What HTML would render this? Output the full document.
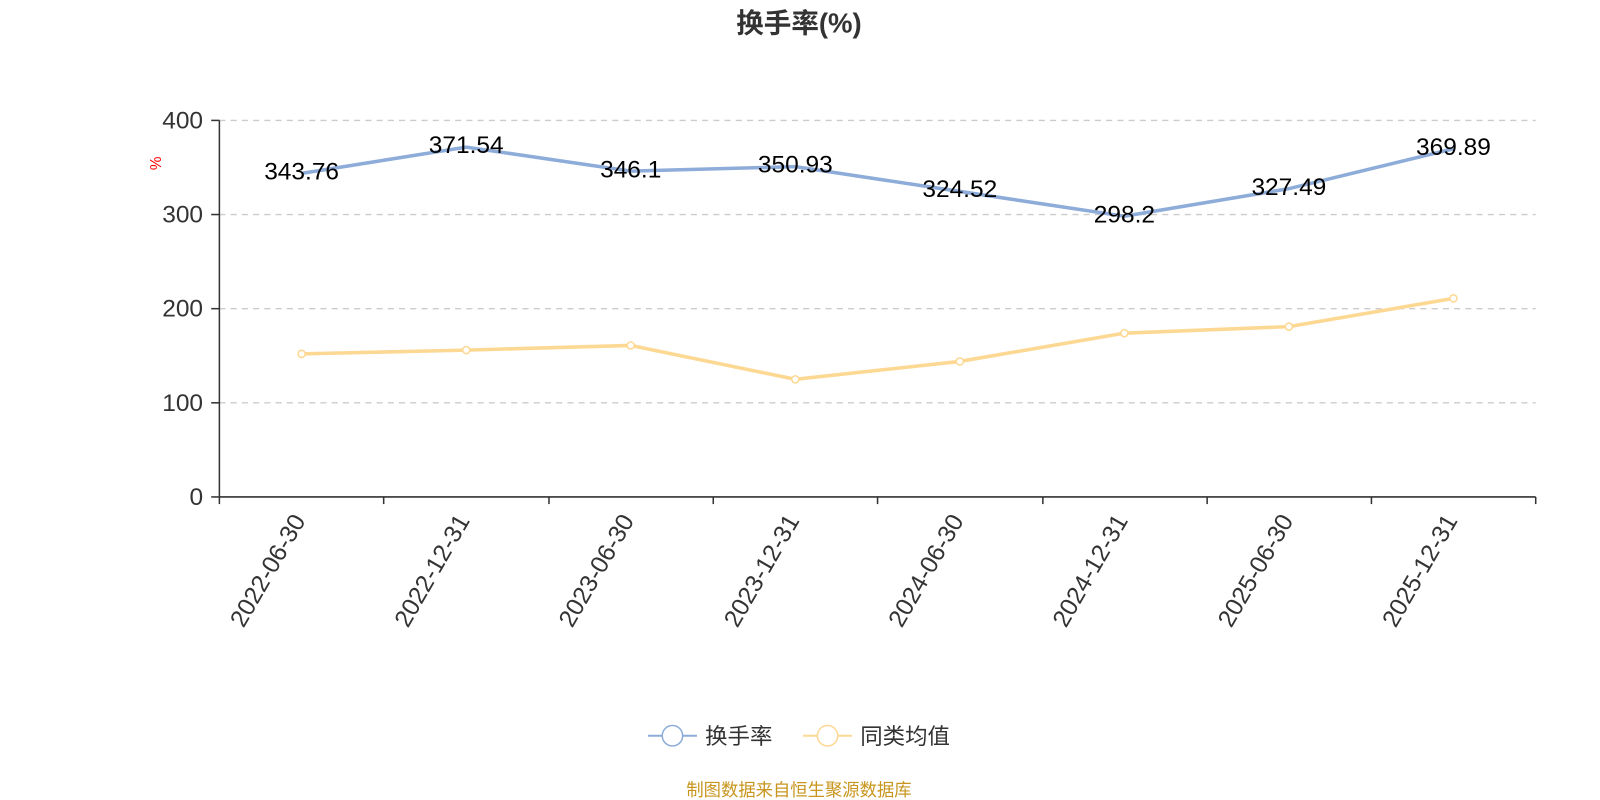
<!DOCTYPE html>
<html><head><meta charset="utf-8"><style>body{margin:0;background:#fff}svg{display:block}</style></head><body>
<svg width="1600" height="800" viewBox="0 0 1568 784" xmlns="http://www.w3.org/2000/svg" font-family="'Liberation Sans','Noto Sans CJK SC',sans-serif">
<text x="783" y="32" text-anchor="middle" font-size="27" font-weight="bold" fill="#333">换手率(%)</text>
<g stroke="#ccc" stroke-dasharray="6,5" stroke-width="1.3">
<line x1="215" x2="1505" y1="118" y2="118"/><line x1="215" x2="1505" y1="210.25" y2="210.25"/><line x1="215" x2="1505" y1="302.5" y2="302.5"/><line x1="215" x2="1505" y1="394.75" y2="394.75"/>
</g>
<g stroke="#333" stroke-width="1.5">
<line x1="215" x2="215" y1="118" y2="487"/><line x1="215" x2="1505" y1="487" y2="487"/>
<line x1="207" x2="215" y1="118" y2="118"/><line x1="207" x2="215" y1="210.25" y2="210.25"/><line x1="207" x2="215" y1="302.5" y2="302.5"/><line x1="207" x2="215" y1="394.75" y2="394.75"/><line x1="207" x2="215" y1="487" y2="487"/>
<line x1="215" x2="215" y1="487" y2="494"/><line x1="376" x2="376" y1="487" y2="494"/><line x1="538" x2="538" y1="487" y2="494"/><line x1="699" x2="699" y1="487" y2="494"/><line x1="860" x2="860" y1="487" y2="494"/><line x1="1022" x2="1022" y1="487" y2="494"/><line x1="1183" x2="1183" y1="487" y2="494"/><line x1="1344" x2="1344" y1="487" y2="494"/><line x1="1505" x2="1505" y1="487" y2="494"/>
</g>
<g font-size="24" fill="#333" text-anchor="end">
<text x="199" y="126">400</text><text x="199" y="218">300</text><text x="199" y="310">200</text><text x="199" y="403">100</text><text x="199" y="495">0</text>
</g>
<text x="158" y="160" font-size="15" fill="red" transform="rotate(-90 158 160)" text-anchor="middle">%</text>
<g font-size="24" fill="#333" text-anchor="end">
<text transform="translate(300,510) rotate(-60)">2022-06-30</text>
<text transform="translate(461,510) rotate(-60)">2022-12-31</text>
<text transform="translate(622,510) rotate(-60)">2023-06-30</text>
<text transform="translate(784,510) rotate(-60)">2023-12-31</text>
<text transform="translate(945,510) rotate(-60)">2024-06-30</text>
<text transform="translate(1106,510) rotate(-60)">2024-12-31</text>
<text transform="translate(1268,510) rotate(-60)">2025-06-30</text>
<text transform="translate(1429,510) rotate(-60)">2025-12-31</text>
</g>
<polyline fill="none" stroke="#8eacd9" stroke-width="3.5" points="295.6,169.9 456.9,144.2 618.1,167.7 779.4,163.3 940.6,187.6 1101.9,211.9 1263.1,184.9 1424.4,145.8"/>
<polyline fill="none" stroke="#fdd893" stroke-width="3.5" points="295.6,346.8 456.9,343.1 618.1,338.5 779.4,371.7 940.6,354.2 1101.9,326.5 1263.1,320.1 1424.4,292.4"/>
<g fill="#fff" stroke="#fdd893" stroke-width="1.5">
<circle cx="295.6" cy="346.8" r="3.5"/><circle cx="456.9" cy="343.1" r="3.5"/><circle cx="618.1" cy="338.5" r="3.5"/><circle cx="779.4" cy="371.7" r="3.5"/><circle cx="940.6" cy="354.2" r="3.5"/><circle cx="1101.9" cy="326.5" r="3.5"/><circle cx="1263.1" cy="320.1" r="3.5"/><circle cx="1424.4" cy="292.4" r="3.5"/>
</g>
<g font-size="24" fill="#000" text-anchor="middle">
<text x="295.6" y="176">343.76</text><text x="456.9" y="150">371.54</text><text x="618.1" y="174">346.1</text><text x="779.4" y="169">350.93</text><text x="940.6" y="193">324.52</text><text x="1101.9" y="218">298.2</text><text x="1263.1" y="191">327.49</text><text x="1424.4" y="152">369.89</text>
</g>
<line x1="635" x2="683" y1="721" y2="721" stroke="#8eacd9" stroke-width="2"/><circle cx="659" cy="721" r="10" fill="#fff" stroke="#8eacd9" stroke-width="1.5"/>
<text x="691" y="729" font-size="22" fill="#333">换手率</text>
<line x1="787" x2="835" y1="721" y2="721" stroke="#fdd893" stroke-width="2"/><circle cx="811" cy="721" r="10" fill="#fff" stroke="#fdd893" stroke-width="1.5"/>
<text x="843" y="729" font-size="22" fill="#333">同类均值</text>
<text x="783" y="780" text-anchor="middle" font-size="17" fill="#c8961e">制图数据来自恒生聚源数据库</text>
</svg>
</body></html>
